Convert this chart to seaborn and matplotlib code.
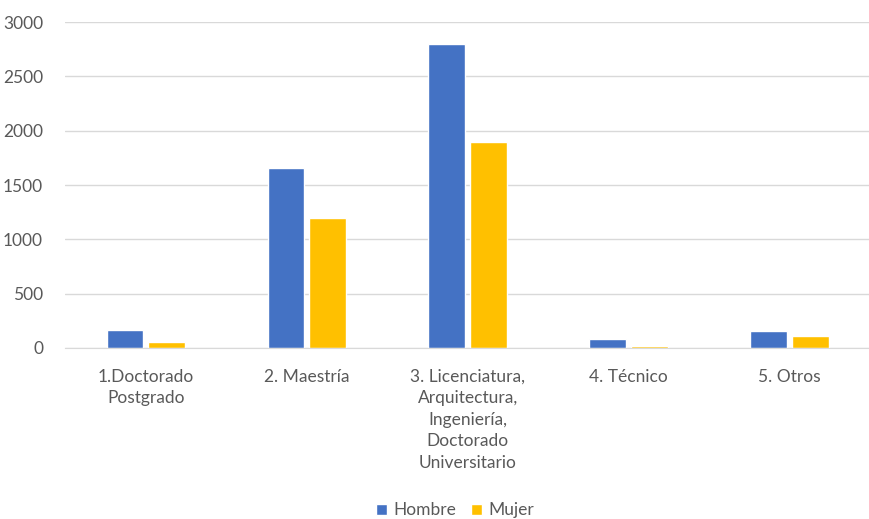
import pandas as pd
import matplotlib.pyplot as plt
import seaborn as sns

# -----------------------------------
# DATA
# -----------------------------------
categorias = [
    "1.Doctorado\nPostgrado",
    "2. Maestría",
    "3. Licenciatura,\nArquitectura,\nIngeniería,\nDoctorado\nUniversitario",
    "4. Técnico",
    "5. Otros",
]
hombre = [170, 1655, 2800, 80, 155]
mujer = [55, 1195, 1895, 22, 110]
series = ["Hombre", "Mujer"]
colores = ["#4472C4", "#FFC000"]

df = pd.DataFrame({
    "categoria": categorias * 2,
    "sexo": [series[0]] * len(categorias) + [series[1]] * len(categorias),
    "valor": hombre + mujer,
})

# -----------------------------------
# VISUAL SETTINGS
# -----------------------------------
sns.set_style("white")
plt.rcParams["font.family"] = ["Lato", "DejaVu Sans"]
texto = "#595959"

fig = plt.figure(figsize=(8.7, 5.19), dpi=100)
ax = fig.add_axes([0.075, 0.3295, 0.925, 0.628])

sns.barplot(data=df, x="categoria", y="valor", hue="sexo",
            palette=colores, width=0.52, gap=0.13, ax=ax,
            saturation=1, legend=True)

ax.set_ylim(0, 3000)
ax.set_yticks(range(0, 3001, 500))
ax.yaxis.grid(True, color="#D9D9D9", linewidth=1)
ax.set_axisbelow(True)
for s in ["top", "right", "left"]:
    ax.spines[s].set_visible(False)
ax.spines["bottom"].set_color("#D9D9D9")
ax.set_xlabel("")
ax.set_ylabel("")
ax.tick_params(axis="both", length=0, colors=texto, labelsize=12.5)
ax.tick_params(axis="x", pad=15)
ax.tick_params(axis="y", pad=16)
for lbl in ax.get_xticklabels():
    lbl.set_linespacing(1.42)

handles, labels = ax.get_legend_handles_labels()
ax.get_legend().remove()
fig.legend(handles, labels, loc="center", bbox_to_anchor=(0.523, 0.017),
           ncol=2, frameon=False, fontsize=12.5, labelcolor=texto,
           handlelength=0.6, handleheight=0.6, handletextpad=0.35,
           columnspacing=0.9)

fig.savefig("out.png", dpi=100)
